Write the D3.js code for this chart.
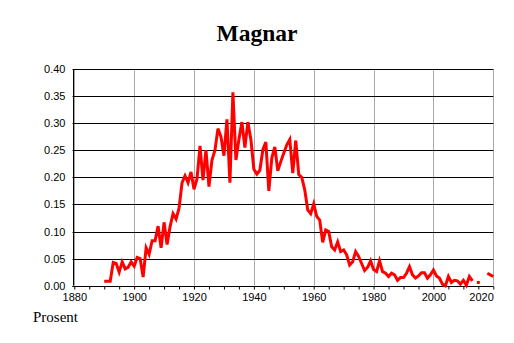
<!DOCTYPE html>
<html>
<head>
<meta charset="utf-8">
<script src="https://cdn.jsdelivr.net/npm/d3@7"></script>
<style>
  html, body { margin: 0; padding: 0; background: #fff; }
  svg { display: block; }
</style>
</head>
<body>
<script>
// ---- data ----
const title = "Magnar";
const yLabel = "Prosent";
const startYear = 1890;
const values = [
  0.008, 0.008, 0.008, 0.043, 0.041, 0.025, 0.044, 0.031, 0.034, 0.044, // 1890-1899
  0.036, 0.052, 0.050, 0.016, 0.070, 0.058, 0.083, 0.083, 0.110, 0.070, // 1900-1909
  0.117, 0.076, 0.109, 0.133, 0.123, 0.143, 0.190, 0.203, 0.190, 0.210, // 1910-1919
  0.178, 0.197, 0.258, 0.195, 0.250, 0.183, 0.232, 0.250, 0.290, 0.275, // 1920-1929
  0.240, 0.307, 0.190, 0.357, 0.232, 0.270, 0.302, 0.255, 0.302, 0.270, // 1930-1939
  0.215, 0.206, 0.213, 0.251, 0.265, 0.175, 0.236, 0.256, 0.212, 0.229, // 1940-1949
  0.245, 0.260, 0.270, 0.208, 0.268, 0.205, 0.200, 0.177, 0.140, 0.133, // 1950-1959
  0.151, 0.128, 0.121, 0.080, 0.103, 0.100, 0.072, 0.066, 0.081, 0.063, // 1960-1969
  0.066, 0.057, 0.038, 0.044, 0.063, 0.054, 0.041, 0.028, 0.034, 0.046, // 1970-1979
  0.030, 0.026, 0.046, 0.026, 0.023, 0.017, 0.023, 0.020, 0.010, 0.015, // 1980-1989
  0.015, 0.023, 0.035, 0.020, 0.014, 0.018, 0.024, 0.024, 0.014, 0.020, // 1990-1999
  0.029, 0.018, 0.014, 0.003, 0.000, 0.017, 0.006, 0.010, 0.009, 0.003, // 2000-2009
  0.010, 0.001, 0.017, 0.009, null, 0.006, null, null, 0.023, 0.020,    // 2010-2019
  0.017                                                                   // 2020
];
const xTicks = [1880, 1900, 1920, 1940, 1960, 1980, 2000, 2020];
const xMinorTicks = d3.range(1880, 2021, 5);
const yTicks = [0, 0.05, 0.10, 0.15, 0.20, 0.25, 0.30, 0.35, 0.40];

const data = values.map((v, i) => ({ year: startYear + i, value: v }));

// ---- layout ----
const W = 514, H = 343;
const svg = d3.select("body").append("svg").attr("width", W).attr("height", H);

const x = d3.scaleLinear().domain([1879.4, 2020]).range([72.5, 493.3]);
const y = d3.scaleLinear().domain([0, 0.40]).range([285.7, 69]);

// vertical grid lines
svg.append("g")
  .selectAll("line").data(xTicks).join("line")
  .attr("x1", d => Math.round(x(d)) + 0.5).attr("x2", d => Math.round(x(d)) + 0.5)
  .attr("y1", y(0.40)).attr("y2", y(0))
  .attr("stroke", "#a8a8a8").attr("stroke-width", 1);

// horizontal grid lines
svg.append("g")
  .selectAll("line").data(yTicks).join("line")
  .attr("x1", x.range()[0]).attr("x2", x.range()[1])
  .attr("y1", d => Math.round(y(d)) + 0.5).attr("y2", d => Math.round(y(d)) + 0.5)
  .attr("stroke", "#000").attr("stroke-width", 1);

// left axis line
svg.append("line")
  .attr("x1", Math.round(x.range()[0]) + 0.5).attr("x2", Math.round(x.range()[0]) + 0.5)
  .attr("y1", y(0.40)).attr("y2", y(0))
  .attr("stroke", "#000").attr("stroke-width", 1);

// y axis labels
const yAxis = d3.axisLeft(y).tickValues(yTicks).tickFormat(d3.format(".2f")).tickSize(0).tickPadding(7);
const gy = svg.append("g").attr("transform", `translate(${x.range()[0]},0)`).call(yAxis);
gy.select(".domain").remove();
gy.selectAll("text").attr("font-family", "Liberation Sans, Arial, sans-serif").attr("font-size", 11).attr("fill", "#000");

// x axis: minor ticks
const xMinor = d3.axisBottom(x).tickValues(xMinorTicks).tickSize(3).tickFormat("");
const gxm = svg.append("g").attr("transform", `translate(0,${Math.round(y(0)) + 0.5})`).call(xMinor);
gxm.select(".domain").attr("stroke", "#000").attr("d", `M${x.range()[0]},0H${x.range()[1]}`);
gxm.selectAll(".tick line").attr("stroke", "#000");

// x axis labels
const xAxis = d3.axisBottom(x).tickValues(xTicks).tickFormat(d3.format("d")).tickSize(0).tickPadding(7);
const gx = svg.append("g").attr("transform", `translate(0,${Math.round(y(0))})`).call(xAxis);
gx.select(".domain").remove();
gx.selectAll("text").attr("font-family", "Liberation Sans, Arial, sans-serif").attr("font-size", 11).attr("fill", "#000");
gx.selectAll(".tick").filter(d => d === 2020).select("text")
  .attr("text-anchor", "end").attr("x", x.range()[1] - x(2020));

// line
const line = d3.line()
  .defined(d => d.value !== null)
  .x(d => x(d.year)).y(d => y(d.value));
svg.append("path").datum(data)
  .attr("d", line)
  .attr("fill", "none").attr("stroke", "#ff0000").attr("stroke-width", 3)
  .attr("stroke-linejoin", "miter");

// isolated points
const isolated = data.filter((d, i) => d.value !== null &&
  (i === 0 || data[i - 1].value === null) && (i === data.length - 1 || data[i + 1].value === null));
svg.append("g").selectAll("rect").data(isolated).join("rect")
  .attr("x", d => x(d.year) - 1.5).attr("y", d => y(d.value) - 1.5)
  .attr("width", 3).attr("height", 3).attr("fill", "#ff0000");

// title
svg.append("text").attr("x", 257).attr("y", 41).attr("text-anchor", "middle")
  .attr("font-family", "Liberation Serif, Times New Roman, serif").attr("font-weight", "bold")
  .attr("font-size", 23.5).text(title);

// unit label
svg.append("text").attr("x", 33).attr("y", 322)
  .attr("font-family", "Liberation Serif, Times New Roman, serif")
  .attr("font-size", 15).text(yLabel);
</script>
</body>
</html>
